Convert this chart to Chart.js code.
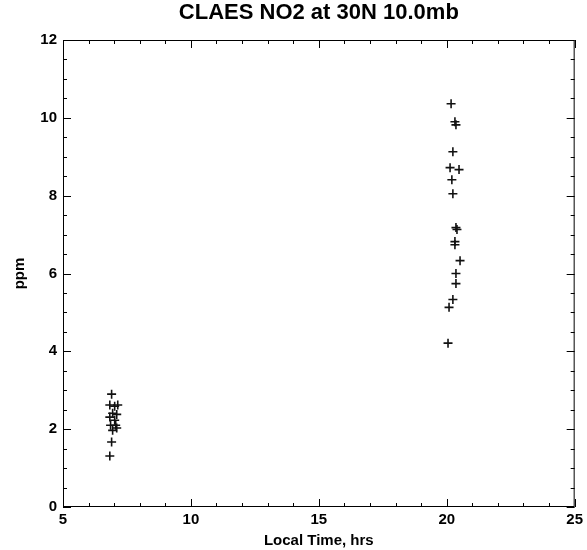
<!DOCTYPE html>
<html>
<head>
<meta charset="utf-8">
<script src="https://cdn.jsdelivr.net/npm/chart.js@4.4.1/dist/chart.umd.min.js"></script>
<style>
  html, body { margin: 0; padding: 0; background: #fff; }
  #wrap { width: 587px; height: 550px; }
</style>
</head>
<body>
<div id="wrap"><canvas id="no2-chart" width="587" height="550"></canvas></div>
<script>
const chartTitle = 'CLAES NO2 at 30N 10.0mb';
const xLabel = 'Local Time, hrs';
const yLabel = 'ppm';

// morning cluster (~7h) then evening cluster (~20h)
const localTime = [
  6.90, 6.83, 7.02, 7.14, 6.94, 7.10, 6.83, 7.02, 6.86, 7.06, 6.94, 7.10, 6.90, 6.83,
  20.17, 20.32, 20.36, 20.24, 20.13, 20.48, 20.20, 20.24, 20.36, 20.40,
  20.32, 20.32, 20.52, 20.36, 20.36, 20.24, 20.09, 20.05
];
const no2Ppm = [
  2.90, 2.62, 2.59, 2.62, 2.41, 2.38, 2.31, 2.23, 2.10, 2.10, 1.97, 2.03, 1.67, 1.31,
  10.36, 9.90, 9.82, 9.13, 8.72, 8.67, 8.41, 8.05, 7.18, 7.13,
  6.82, 6.74, 6.33, 6.00, 5.74, 5.33, 5.13, 4.21
];

const xRange = [5, 25];
const yRange = [0, 12];
const xStep = 5, xMinorStep = 1;
const yStep = 2, yMinorStep = 0.5;

const FONT = '"Liberation Sans", Arial, Helvetica, sans-serif';

// IDL style box: frame plus inward ticks on every side
const idlFrame = {
  id: 'idlFrame',
  afterDraw(chart) {
    const { ctx, chartArea: a } = chart;
    const xs = chart.scales.x, ys = chart.scales.y;
    ctx.save();
    ctx.strokeStyle = '#000';
    ctx.lineWidth = 1;
    ctx.strokeRect(a.left + 0.5, a.top + 0.5, a.right - a.left - 1, a.bottom - a.top - 1);

    ctx.beginPath();
    for (let v = xRange[0]; v <= xRange[1] + 1e-6; v += xMinorStep) {
      const px = Math.round(xs.getPixelForValue(v)) + 0.5;
      const len = Math.abs(v % xStep) < 1e-6 ? 8 : 4;
      ctx.moveTo(px, a.bottom); ctx.lineTo(px, a.bottom - len);
      ctx.moveTo(px, a.top); ctx.lineTo(px, a.top + len);
    }
    for (let v = yRange[0]; v <= yRange[1] + 1e-6; v += yMinorStep) {
      const py = Math.round(ys.getPixelForValue(v)) + 0.5;
      const len = Math.abs(v % yStep) < 1e-6 ? 8 : 4;
      ctx.moveTo(a.left, py); ctx.lineTo(a.left + len, py);
      ctx.moveTo(a.right, py); ctx.lineTo(a.right - len, py);
    }
    ctx.stroke();
    ctx.restore();
  }
};

const ctx = document.getElementById('no2-chart');
new Chart(ctx, {
  type: 'scatter',
  data: {
    datasets: [{
      label: 'NO2',
      data: localTime.map((t, i) => ({ x: t, y: no2Ppm[i] })),
      pointStyle: 'cross',
      pointRadius: 4.5,
      pointBorderWidth: 1.6,
      borderColor: '#111',
      backgroundColor: '#111'
    }]
  },
  options: {
    responsive: false,
    animation: false,
    layout: { padding: { left: 0, right: 9, top: 0, bottom: 0 } },
    plugins: {
      legend: { display: false },
      tooltip: { enabled: false }
    },
    scales: {
      x: {
        type: 'linear',
        min: xRange[0], max: xRange[1],
        grid: { display: false, drawTicks: false },
        border: { display: false },
        ticks: { stepSize: xStep, padding: 4, color: '#000', font: { family: FONT, size: 15, weight: 'bold' } },
        title: { display: true, text: xLabel, color: '#000', padding: { top: 0, bottom: 0 },
                 font: { family: FONT, size: 15, weight: 'bold' } },
        afterFit: s => { s.height = 43; }
      },
      x2: {
        type: 'linear',
        position: 'top',
        min: xRange[0], max: xRange[1],
        grid: { display: false, drawTicks: false },
        border: { display: false },
        ticks: { display: false },
        title: { display: true, text: chartTitle, color: '#000', padding: { top: 0, bottom: 0 },
                 font: { family: FONT, size: 22, weight: 'bold' } },
        afterFit: s => { s.height = 40; }
      },
      y: {
        type: 'linear',
        min: yRange[0], max: yRange[1],
        grid: { display: false, drawTicks: false },
        border: { display: false },
        ticks: { stepSize: yStep, padding: 6, color: '#000', font: { family: FONT, size: 15, weight: 'bold' } },
        title: { display: true, text: yLabel, color: '#000', padding: { top: 11, bottom: 0 },
                 font: { family: FONT, size: 15, weight: 'bold' } },
        afterFit: s => { s.width = 63; }
      }
    }
  },
  plugins: [idlFrame]
});
</script>
</body>
</html>
